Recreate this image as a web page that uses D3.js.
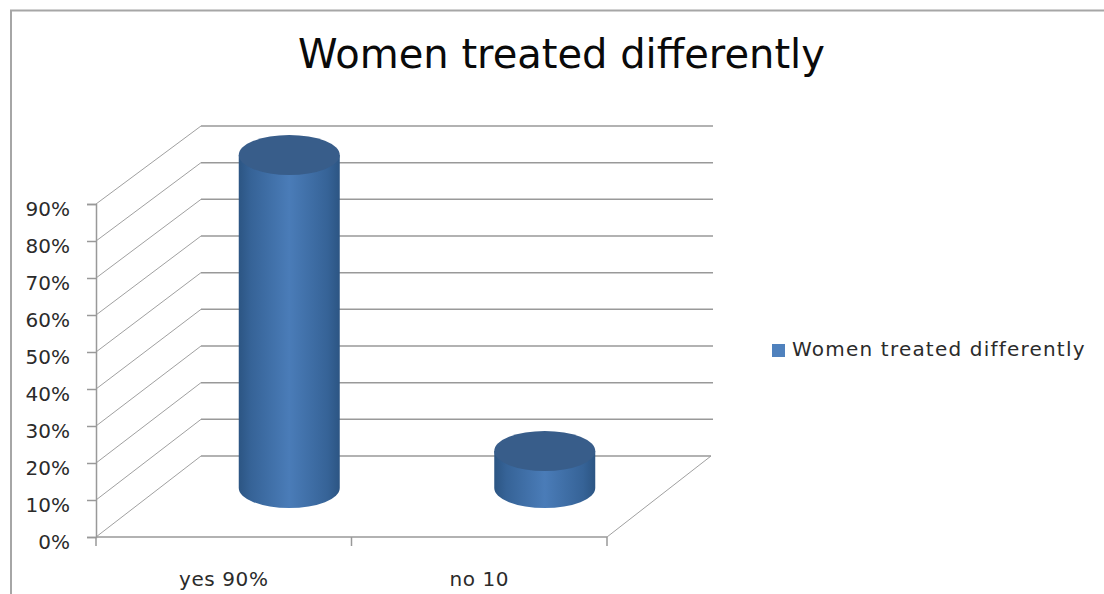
<!DOCTYPE html>
<html>
<head>
<meta charset="utf-8">
<script src="https://cdn.jsdelivr.net/npm/d3@7"></script>
<style>
  html, body { margin: 0; padding: 0; background: #fff; }
  svg { display: block; }
  text { font-family: "DejaVu Sans", sans-serif; fill: #2b2b2b; }
</style>
</head>
<body>
<svg id="chart" width="1104" height="594"></svg>
<script>
// Survey result: share of respondents per answer
const chartTitle = "Women treated differently";
const seriesName = "Women treated differently";
const categories = ["yes 90%", "no 10"];
const seriesValues = [90, 10];
const yTicks = [0, 10, 20, 30, 40, 50, 60, 70, 80, 90];

const svg = d3.select("#chart");
const axisColor = "#999999";

// Front plane of the 3D box and the oblique shift to its back wall
const frontLeft = 96, frontRight = 607;
const depthX = 105;
const yFront = d3.scaleLinear().domain([0, 90]).range([537, 204]);
const yBack = d3.scaleLinear().domain([0, 90]).range([456, 126]);
const yBar = d3.scaleLinear().domain([0, 90]).range([488, 155]);
const x = d3.scaleBand().domain(categories).range([frontLeft, frontRight]);
const barShiftX = 65.5;
const barRx = 50.5, barRy = 20;

// Chart frame: only the top and left edges are visible
svg.append("path")
  .attr("d", d3.line()([[11, 594], [11, 10.5], [1104, 10.5]]))
  .attr("fill", "none").attr("stroke", "#a6a6a6").attr("stroke-width", 2);

// Side wall diagonals
svg.append("g").selectAll("line").data(yTicks).join("line")
  .attr("x1", frontLeft).attr("y1", d => yFront(d))
  .attr("x2", frontLeft + depthX).attr("y2", d => yBack(d))
  .attr("stroke", "#a0a0a0").attr("stroke-width", 1);

// Back wall gridlines
svg.append("g").selectAll("line").data(yTicks).join("line")
  .attr("x1", frontLeft + depthX).attr("y1", d => yBack(d))
  .attr("x2", d => frontRight + depthX + (d === 0 ? -1 : 1)).attr("y2", d => yBack(d))
  .attr("stroke", axisColor).attr("stroke-width", 1.5);

// Floor edge on the right-hand side
svg.append("line")
  .attr("x1", frontRight).attr("y1", yFront(0))
  .attr("x2", frontRight + depthX - 1).attr("y2", yBack(0))
  .attr("stroke", "#a0a0a0");

// Value axis
const yAxis = d3.axisLeft(yFront).tickValues(yTicks)
  .tickFormat(d => d + "%").tickSize(9).tickPadding(17);
const yG = svg.append("g").attr("transform", `translate(${frontLeft},0)`).call(yAxis);
yG.selectAll("path, line").attr("stroke", axisColor).attr("stroke-width", 1.5);
yG.selectAll("text")
  .attr("dy", "0.65em").attr("y", -2)
  .style("font-size", "20px").style("font-family", "DejaVu Sans").attr("fill", "#2b2b2b");

// Category axis: labels at band centres, ticks on band edges
const xAxis = d3.axisBottom(x).tickSize(0).tickPadding(35);
const xG = svg.append("g").attr("transform", `translate(0,${yFront(0)})`).call(xAxis);
xG.select("path").remove();
xG.selectAll("text")
  .style("font-size", "20px").style("letter-spacing", "0.6px")
  .style("font-family", "DejaVu Sans").attr("fill", "#2b2b2b");
svg.append("g").selectAll("line")
  .data([frontLeft, frontLeft + x.step(), frontRight]).join("line")
  .attr("x1", d => d).attr("x2", d => d)
  .attr("y1", yFront(0)).attr("y2", yFront(0) + 9)
  .attr("stroke", axisColor).attr("stroke-width", 1.5);
svg.append("line")
  .attr("x1", frontLeft).attr("x2", frontRight)
  .attr("y1", yFront(0)).attr("y2", yFront(0))
  .attr("stroke", axisColor).attr("stroke-width", 1.5);

// Horizontal shading across the cylinder body
const defs = svg.append("defs");
const grad = defs.append("linearGradient").attr("id", "cyl")
  .attr("x1", "0%").attr("x2", "100%").attr("y1", "0%").attr("y2", "0%");
[[0, "#2c5583"], [0.12, "#366397"], [0.5, "#4a7cb8"], [0.88, "#366397"], [1, "#2c5583"]]
  .forEach(([o, c]) => grad.append("stop").attr("offset", o).attr("stop-color", c));

// Cylinders
const bars = svg.append("g").selectAll("g")
  .data(categories.map((c, i) => ({ c, v: seriesValues[i] }))).join("g");
bars.append("path")
  .attr("fill", "url(#cyl)")
  .attr("d", d => {
    const cx = x(d.c) + x.bandwidth() / 2 + barShiftX;
    const top = yBar(d.v), bot = yBar(0);
    return `M${cx - barRx},${top}L${cx - barRx},${bot}` +
      `A${barRx},${barRy} 0 0 0 ${cx + barRx},${bot}L${cx + barRx},${top}Z`;
  });
bars.append("ellipse")
  .attr("cx", d => x(d.c) + x.bandwidth() / 2 + barShiftX)
  .attr("cy", d => yBar(d.v))
  .attr("rx", barRx).attr("ry", barRy)
  .attr("fill", "#385d8a");

// Title
svg.append("text").attr("x", 561.5).attr("y", 68).attr("text-anchor", "middle")
  .style("font-size", "40px").style("fill", "#0a0a0a").text(chartTitle);

// Legend
const color = d3.scaleOrdinal().domain([seriesName]).range(["#4f81bd"]);
svg.append("rect").attr("x", 772).attr("y", 344).attr("width", 13).attr("height", 13)
  .attr("fill", color(seriesName));
svg.append("text").attr("x", 792).attr("y", 356)
  .style("font-size", "20px").style("letter-spacing", "1.2px").text(seriesName);
</script>
</body>
</html>
